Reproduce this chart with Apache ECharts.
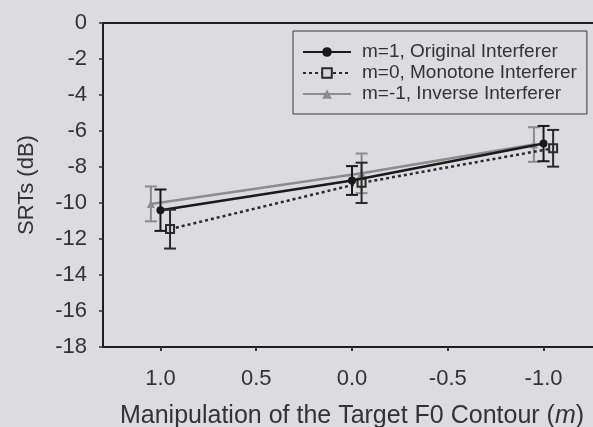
<!DOCTYPE html>
<html>
<head>
<meta charset="utf-8">
<script src="https://cdn.jsdelivr.net/npm/echarts@6/dist/echarts.min.js"></script>
<style>
html,body{margin:0;padding:0;background:#dbdbe0;}
#c{width:593px;height:427px;}
</style>
</head>
<body>
<div id="c"></div>
<script>
// Series names
const seriesNames = ['m=1, Original Interferer', 'm=0, Monotone Interferer', 'm=-1, Inverse Interferer'];
// x positions (m) with small horizontal offsets as in the figure
const xOriginal = [1.0, 0.0, -1.0];
const xMonotone = [0.95, -0.05, -1.05];
const xInverse  = [1.05, -0.05, -0.95];
// SRT means (dB)
const yOriginal = [-10.4, -8.75, -6.7];
const yMonotone = [-11.45, -8.88, -6.96];
const yInverse  = [-10.05, -8.35, -6.75];
// error half-widths (dB)
const eOriginal = [1.15, 0.8, 0.98];
const eMonotone = [1.08, 1.12, 1.02];
const eInverse  = [0.97, 1.1, 0.96];
// tick labels
const xTicks = [1.0, 0.5, 0.0, -0.5, -1.0];
const yTicks = [0, -2, -4, -6, -8, -10, -12, -14, -16, -18];

const colors = ['#1a1a1a', '#2a2a2a', '#8c8c8c'];

function pts(xs, ys) { return xs.map((x, i) => [x, ys[i]]); }
function errPts(xs, ys, es) { return xs.map((x, i) => [x, ys[i], es[i]]); }

function errRender(color) {
  return function (params, api) {
    const x = api.value(0), y = api.value(1), e = api.value(2);
    const top = api.coord([x, y + e]);
    const bot = api.coord([x, y - e]);
    const hw = 6;
    const st = { stroke: color, lineWidth: 2 };
    return {
      type: 'group',
      children: [
        { type: 'line', shape: { x1: top[0], y1: top[1], x2: bot[0], y2: bot[1] }, style: st },
        { type: 'line', shape: { x1: top[0] - hw, y1: top[1], x2: top[0] + hw, y2: top[1] }, style: st },
        { type: 'line', shape: { x1: bot[0] - hw, y1: bot[1], x2: bot[0] + hw, y2: bot[1] }, style: st }
      ]
    };
  };
}

const chart = echarts.init(document.getElementById('c'));
const font = 'Liberation Sans, Arial, sans-serif';
chart.setOption({
  backgroundColor: '#dbdbe0',
  animation: false,
  grid: {
    left: 103, top: 23, right: -8, bottom: 80,
    outerBoundsMode: 'none', containLabel: false,
    show: true, borderColor: '#1e1e1e', borderWidth: 2, backgroundColor: 'transparent'
  },
  legend: {
    orient: 'vertical',
    left: 293, top: 31,
    padding: [11, 10, 10, 9],
    borderColor: '#3a3a3a', borderWidth: 1,
    itemWidth: 48, itemHeight: 12, itemGap: 1,
    textStyle: { fontFamily: font, fontSize: 19, color: '#333', lineHeight: 20, padding: [0, 0, 0, 6] },
    data: seriesNames
  },
  xAxis: {
    type: 'value', min: -1.3, max: 1.3, inverse: true,
    splitLine: { show: false },
    axisLine: { show: true, onZero: false, lineStyle: { color: '#1e1e1e', width: 2 } },
    axisTick: { show: true, customValues: xTicks, length: 4, lineStyle: { color: '#333', width: 2 } },
    axisLabel: {
      customValues: xTicks, margin: 21,
      formatter: v => v.toFixed(1),
      fontFamily: font, fontSize: 22, color: '#333'
    },
    name: 'Manipulation of the Target F0 Contour ({i|m})',
    nameLocation: 'middle', nameGap: 57,
    nameTextStyle: {
      fontFamily: font, fontSize: 25, color: '#333',
      rich: { i: { fontFamily: font, fontSize: 25, color: '#333', fontStyle: 'italic' } }
    }
  },
  yAxis: {
    type: 'value', min: -18, max: 0, interval: 2,
    splitLine: { show: false },
    axisLine: { show: true, onZero: false, lineStyle: { color: '#1e1e1e', width: 2 } },
    axisTick: { show: true, length: 4, lineStyle: { color: '#333', width: 1.5 } },
    axisLabel: { margin: 16, fontFamily: font, fontSize: 22, color: '#333' },
    name: 'SRTs (dB)', nameLocation: 'middle', nameGap: 65,
    nameTextStyle: { fontFamily: font, fontSize: 22, color: '#333' }
  },
  series: [
    {
      name: seriesNames[0], type: 'line', data: pts(xOriginal, yOriginal),
      symbol: 'circle', symbolSize: 8, z: 5,
      lineStyle: { color: colors[0], width: 2.5 },
      itemStyle: { color: colors[0] }
    },
    {
      name: seriesNames[1], type: 'line', data: pts(xMonotone, yMonotone),
      symbol: 'rect', symbolSize: 8, z: 4,
      lineStyle: { color: colors[1], width: 2.5, type: [3, 3] },
      itemStyle: { color: '#d6d6d6', borderColor: colors[1], borderWidth: 2 }
    },
    {
      name: seriesNames[2], type: 'line', data: pts(xInverse, yInverse),
      symbol: 'triangle', symbolSize: 8, z: 3,
      lineStyle: { color: colors[2], width: 2.5 },
      itemStyle: { color: colors[2] }
    },
    { type: 'custom', renderItem: errRender(colors[0]), data: errPts(xOriginal, yOriginal, eOriginal), z: 6 },
    { type: 'custom', renderItem: errRender(colors[1]), data: errPts(xMonotone, yMonotone, eMonotone), z: 6 },
    { type: 'custom', renderItem: errRender(colors[2]), data: errPts(xInverse, yInverse, eInverse), z: 2 }
  ]
});
</script>
</body>
</html>
